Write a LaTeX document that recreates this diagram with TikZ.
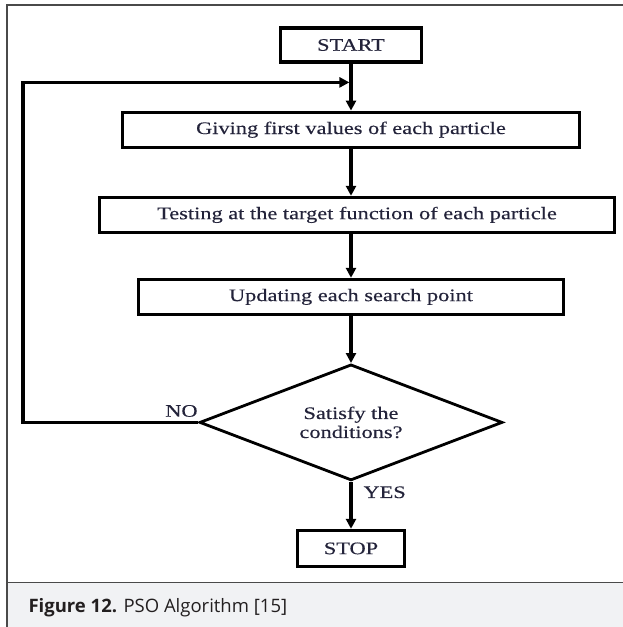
\documentclass[tikz,border=0pt]{standalone}
\usepackage{fontspec}
\setmainfont[FakeStretch=1.27,FakeBold=0.3]{Liberation Serif}
\newfontfamily\capfont{Open Sans}
\usepackage{tikz}
\usetikzlibrary{arrows.meta,calc,positioning,shapes.geometric}
\definecolor{inkblue}{HTML}{23233A}
\definecolor{capbg}{HTML}{F1F2F4}
\definecolor{capink}{HTML}{231F20}
\definecolor{framegray}{HTML}{4A4A4A}

\begin{document}
\begin{tikzpicture}[
  x=1pt,
  y=-1pt,
  node distance=47pt,
  stepbox/.style={
    draw,
    line width=3.2pt,
    minimum height=35pt,
    inner sep=0pt,
    text=inkblue,
    font=\fontsize{17.6}{20}\selectfont
  },
  decision/.style={
    draw,
    diamond,
    aspect=2.6,
    line width=2.8pt,
    minimum width=303pt,
    minimum height=116pt,
    inner sep=0pt,
    align=center,
    text=inkblue,
    font=\fontsize{17.6}{19}\selectfont
  },
  tag/.style={text=inkblue,font=\fontsize{17.6}{20}\selectfont},
  arrow/.style={-{Triangle[length=10pt,width=10pt]},line width=3.2pt}
]
\useasboundingbox (0,0) rectangle (623,627);
% frame and caption strip
\fill[capbg] (7,582) rectangle (623,627);
\draw[framegray,line width=1.6pt] (623,5) -- (7,5) -- (7,627);
\draw[framegray,line width=1pt] (7,582) -- (623,582);
\node[anchor=base west,text=capink,font=\capfont\fontsize{18.5}{20}\selectfont] (caption) at (25,612)
  {\textbf{Figure 12.} PSO Algorithm [15]};

% flow chart
\node[stepbox,minimum width=141pt,minimum height=34pt] (start) at (351,45) {START};
\node[stepbox,minimum width=457pt,below=of start] (init) {Giving first values of each particle};
\node[stepbox,minimum width=515pt,below=of init,xshift=6pt] (test) {Testing at the target function of each particle};
\node[stepbox,minimum width=425pt,below=of init,yshift=-82pt] (update) {Updating each search point};
\node[decision,below=of update] (cond) {Satisfy the\\conditions?};
\node[stepbox,minimum width=107pt,minimum height=36pt,below=of cond] (stop) {STOP};
\coordinate (join) at ($(start.south)!0.4!(init.north)$);
\coordinate (edge) at (23,0);

\draw[arrow] (start) -- (init);
\draw[arrow] (init.south) -- (init.south |- test.north);
\draw[arrow] (init.south |- test.south) -- (update);
\draw[arrow] (update) -- (cond);
\draw[arrow] (cond) -- (stop);
\draw[arrow,shorten >=1.6pt] (cond.west) -- (cond.west -| edge) |- (join);

\node[tag,anchor=south east] (no) at ([xshift=3pt,yshift=2pt]cond.west) {NO};
\node[tag,anchor=north west] (yes) at ([xshift=9pt,yshift=-1pt]cond.south) {YES};
\end{tikzpicture}
\end{document}
